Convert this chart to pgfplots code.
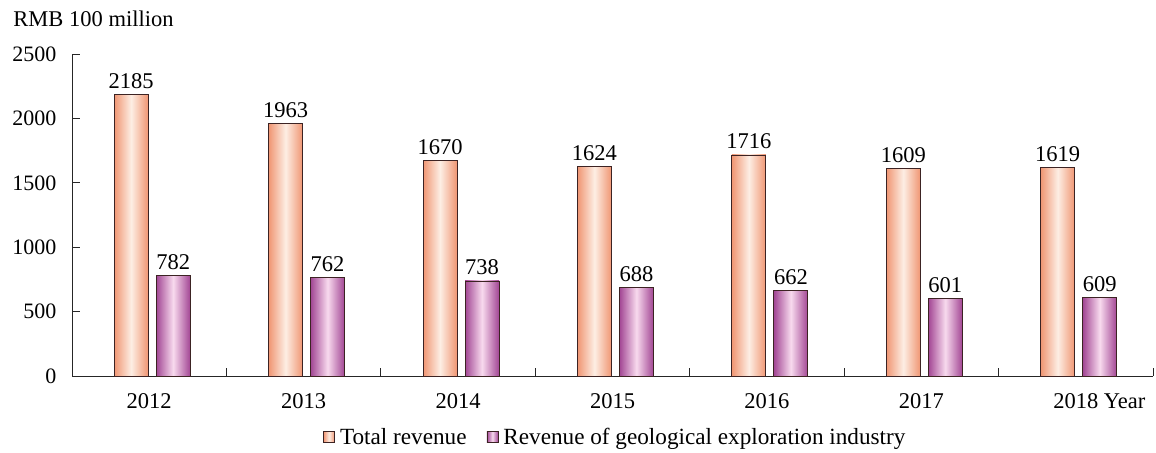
\documentclass[border=0pt]{standalone}
\usepackage{pgfplots}
\pgfplotsset{compat=1.18}
\usepackage{fontspec}
\setmainfont{Liberation Serif}
\definecolor{oedge}{RGB}{240,150,115}
\definecolor{omid}{RGB}{253,238,228}
\definecolor{pedge}{RGB}{162,70,148}
\definecolor{pmid}{RGB}{248,218,238}
\definecolor{bord}{RGB}{60,35,35}
\newcommand{\cf}{\fontsize{22.5}{27}\selectfont}
\newcommand{\lf}{\fontsize{23.2}{27}\selectfont}
\newcommand{\tf}{\fontsize{22}{26}\selectfont}
\pgfplotsset{
 obar/.style={ybar, bar width=0.22, bar shift=0pt, draw=bord, line width=0.9pt,
   left color=oedge, right color=oedge, middle color=omid, nodes near coords,
   legend image code/.code={\draw[draw=bord,line width=0.8pt,left color=oedge,right color=oedge,middle color=omid] (0pt,-5.5pt) rectangle (11pt,5.5pt);}},
 pbar/.style={ybar, bar width=0.22, bar shift=0pt, draw=bord, line width=0.9pt,
   left color=pedge, right color=pedge, middle color=pmid, nodes near coords,
   legend image code/.code={\draw[draw=bord,line width=0.8pt,left color=pedge,right color=pedge,middle color=pmid] (0pt,-5.5pt) rectangle (11pt,5.5pt);}},
}
\begin{document}
\begin{tikzpicture}
\begin{axis}[
 scale only axis, width=1081pt, height=322pt,
 xmin=-0.5, xmax=6.5, ymin=0, ymax=2500,
 axis x line*=bottom, axis y line*=left,
 axis line style={line width=0.9pt, draw=black!85},
 xtick={0,...,6},
 xticklabels={2012,2013,2014,2015,2016,2017,{2018\rlap{ Year}}},
 major x tick style={draw=none},
 minor xtick={0.5,1.5,2.5,3.5,4.5,5.5,6.5},
 minor tick length=8pt, major tick length=8pt,
 ytick={0,500,1000,1500,2000,2500},
 tick align=inside,
 tick style={line width=0.9pt, black!85},
 /pgf/number format/1000 sep={},
 /pgf/number format/assume math mode=true,
 yticklabel style={font=\tf, xshift=-12pt},
 xticklabel style={font=\cf, yshift=-14pt},
 nodes near coords style={font=\cf, yshift=2pt, /pgf/number format/assume math mode=true, /pgf/number format/1000 sep={}},
 clip=false,
 legend style={at={(0.504,-0.19)}, anchor=center, draw=none, font=\lf,
   legend columns=2, /tikz/every even column/.append style={column sep=15pt},
   nodes={inner xsep=5pt}},
]
\addplot[obar] coordinates {(-0.117,2185)};
\addlegendentry{Total revenue}
\addplot[pbar] coordinates {(0.155,782)};
\addlegendentry{Revenue of geological exploration industry}
\addplot[obar, forget plot] coordinates {(0.883,1963)};
\addplot[obar, forget plot] coordinates {(1.883,1670)};
\addplot[obar, forget plot] coordinates {(2.883,1624)};
\addplot[obar, forget plot] coordinates {(3.883,1716)};
\addplot[obar, forget plot] coordinates {(4.883,1609)};
\addplot[obar, forget plot] coordinates {(5.883,1619)};
\addplot[pbar, forget plot] coordinates {(1.155,762)};
\addplot[pbar, forget plot] coordinates {(2.155,738)};
\addplot[pbar, forget plot] coordinates {(3.155,688)};
\addplot[pbar, forget plot] coordinates {(4.155,662)};
\addplot[pbar, forget plot] coordinates {(5.155,601)};
\addplot[pbar, forget plot] coordinates {(6.155,609)};
\node[anchor=base west, font=\cf] at (rel axis cs:-0.0574,1.084) {RMB 100 million};
\end{axis}
\pgfresetboundingbox
\path ([shift={(-72pt,-76pt)}]current axis.south west) rectangle ([shift={(3pt,54pt)}]current axis.north east);
\end{tikzpicture}
\end{document}
